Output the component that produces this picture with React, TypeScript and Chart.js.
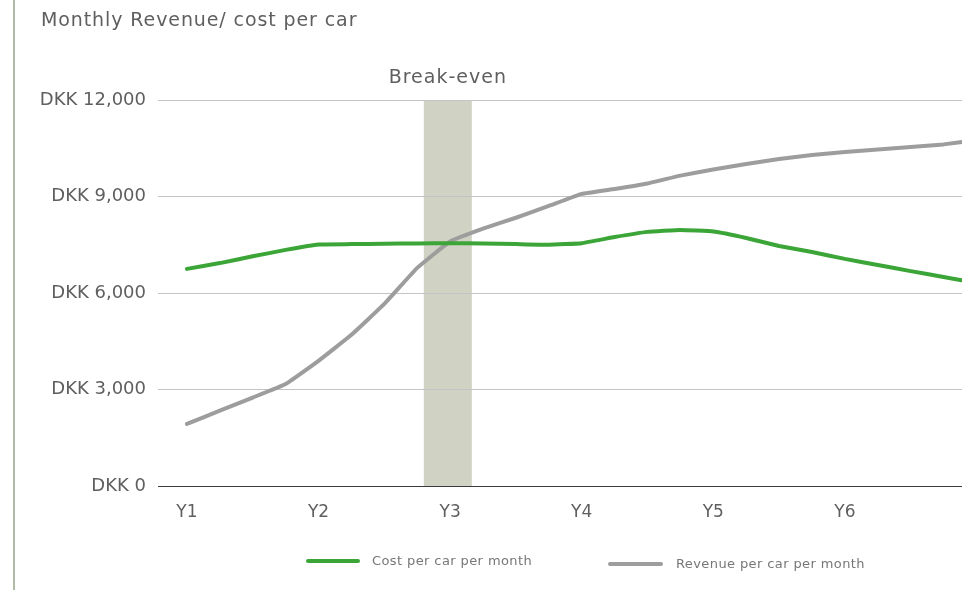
import React, { useEffect, useRef } from 'react';
import { Chart, registerables } from 'chart.js';

Chart.register(...registerables);

// ---- data ----
const chartTitle = 'Monthly Revenue/ cost per car';
const seriesNames = ['Cost per car per month', 'Revenue per car per month'];
const quarters = [0, 1, 2, 3, 4, 5, 6, 7, 8, 9, 10, 11, 12, 13, 14, 15, 16, 17, 18, 19, 20, 21, 22, 23, 24];
const costPerCar = [6750, 6930, 7140, 7340, 7510, 7520, 7530, 7540, 7545, 7540, 7520, 7500, 7550, 7740, 7900, 7960, 7910, 7710, 7460, 7275, 7060, 6870, 6680, 6500, 6310];
const revenuePerCar = [1930, 2340, 2750, 3170, 3890, 4700, 5660, 6780, 7600, 8000, 8340, 8705, 9080, 9235, 9405, 9650, 9840, 10010, 10165, 10290, 10385, 10460, 10540, 10620, 10760];
const yearTickQuarters = [0, 4, 8, 12, 16, 20];
const yearTickLabels = ['Y1', 'Y2', 'Y3', 'Y4', 'Y5', 'Y6'];
const yTickValues = [0, 3000, 6000, 9000, 12000];
const breakEvenRange = [7.2, 8.66];
const breakEvenLabel = 'Break-even';

const FONT = "'DejaVu Sans', sans-serif";
const GREEN = '#3ba637';
const GREY = '#9d9d9d';
const TEXT = '#5f5f5f';

const breakEvenPlugin = {
  id: 'breakEven',
  beforeDraw(chart: any) {
    const { ctx, chartArea, scales } = chart;
    const x = scales.x;
    const x0 = x.getPixelForValue(breakEvenRange[0]);
    const x1 = x.getPixelForValue(breakEvenRange[1]);
    ctx.save();
    ctx.fillStyle = '#d0d3c3';
    ctx.fillRect(x0, chartArea.top, x1 - x0, chartArea.bottom - chartArea.top);
    ctx.font = `19px ${FONT}`;
    try {
      (ctx as any).letterSpacing = '1px';
    } catch (e) {}
    ctx.fillStyle = TEXT;
    ctx.textAlign = 'center';
    ctx.textBaseline = 'middle';
    ctx.fillText(breakEvenLabel, (x0 + x1) / 2, chartArea.top - 22);
    ctx.restore();
  },
};

export default function App() {
  const ref = useRef<HTMLCanvasElement | null>(null);

  useEffect(() => {
    if (!ref.current) return;
    const chart = new Chart(ref.current, {
      type: 'line',
      data: {
        labels: quarters,
        datasets: [
          {
            label: seriesNames[0],
            data: costPerCar,
            borderColor: GREEN,
            backgroundColor: GREEN,
            borderWidth: 4,
            pointRadius: 0,
            tension: 0.1,
            borderCapStyle: 'round',
            borderJoinStyle: 'round',
          },
          {
            label: seriesNames[1],
            data: revenuePerCar,
            borderColor: GREY,
            backgroundColor: GREY,
            borderWidth: 4,
            pointRadius: 0,
            tension: 0.1,
            borderCapStyle: 'round',
            borderJoinStyle: 'round',
          },
        ],
      },
      options: {
        responsive: false,
        animation: false,
        layout: { padding: { left: 41, right: 5, top: 100, bottom: 64 } },
        plugins: {
          legend: { display: false },
          title: { display: false },
          tooltip: { enabled: false },
        },
        scales: {
          x: {
            type: 'linear',
            min: -0.88,
            max: 23.56,
            grid: { display: false, drawTicks: false },
            border: { display: false },
            afterBuildTicks: (scale: any) => {
              scale.ticks = yearTickQuarters.map((v) => ({ value: v }));
            },
            afterFit: (scale: any) => {
              scale.height = 40;
            },
            ticks: {
              padding: 16,
              autoSkip: false,
              maxRotation: 0,
              color: TEXT,
              font: { family: FONT, size: 17 },
              callback: (v: any) => {
                const i = yearTickQuarters.indexOf(Number(v));
                return i >= 0 ? yearTickLabels[i] : '';
              },
            },
          },
          y: {
            min: 0,
            max: 12000,
            afterBuildTicks: (scale: any) => {
              scale.ticks = yTickValues.map((v) => ({ value: v }));
            },
            afterFit: (scale: any) => {
              scale.width = 117;
            },
            grid: {
              drawTicks: false,
              lineWidth: 1,
              color: (c: any) => (c.tick && c.tick.value === 0 ? '#3a3a3a' : '#c4c4c4'),
            },
            border: { display: false },
            ticks: {
              padding: 12,
              color: TEXT,
              font: { family: FONT, size: 18 },
              callback: (v: any) => 'DKK ' + Number(v).toLocaleString('en-US'),
            },
          },
        },
      },
      plugins: [breakEvenPlugin],
    } as any);
    return () => chart.destroy();
  }, []);

  const legendText: React.CSSProperties = {
    position: 'absolute',
    fontFamily: FONT,
    fontSize: 13,
    letterSpacing: '0.4px',
    color: '#777',
    lineHeight: '16px',
    whiteSpace: 'nowrap',
  };

  return (
    <div style={{ position: 'fixed', left: 0, top: 0, width: 967, height: 590, background: '#fff', overflow: 'hidden' }}>
      <canvas ref={ref} width={967} height={590} style={{ position: 'absolute', left: 0, top: 0, width: 967, height: 590 }} />
      <div style={{ position: 'absolute', left: 13, top: 0, width: 2, height: 590, background: '#aebba6' }} />
      <div
        style={{
          position: 'absolute',
          left: 41,
          top: 9,
          fontFamily: FONT,
          fontSize: 19,
          letterSpacing: '0.9px',
          lineHeight: '21px',
          color: TEXT,
          whiteSpace: 'nowrap',
        }}
      >
        {chartTitle}
      </div>
      <div style={{ position: 'absolute', left: 306, top: 559, width: 54, height: 4, borderRadius: 2, background: GREEN }} />
      <div style={{ ...legendText, left: 372, top: 553 }}>{seriesNames[0]}</div>
      <div style={{ position: 'absolute', left: 608, top: 562, width: 55, height: 4, borderRadius: 2, background: GREY }} />
      <div style={{ ...legendText, left: 676, top: 556 }}>{seriesNames[1]}</div>
    </div>
  );
}
